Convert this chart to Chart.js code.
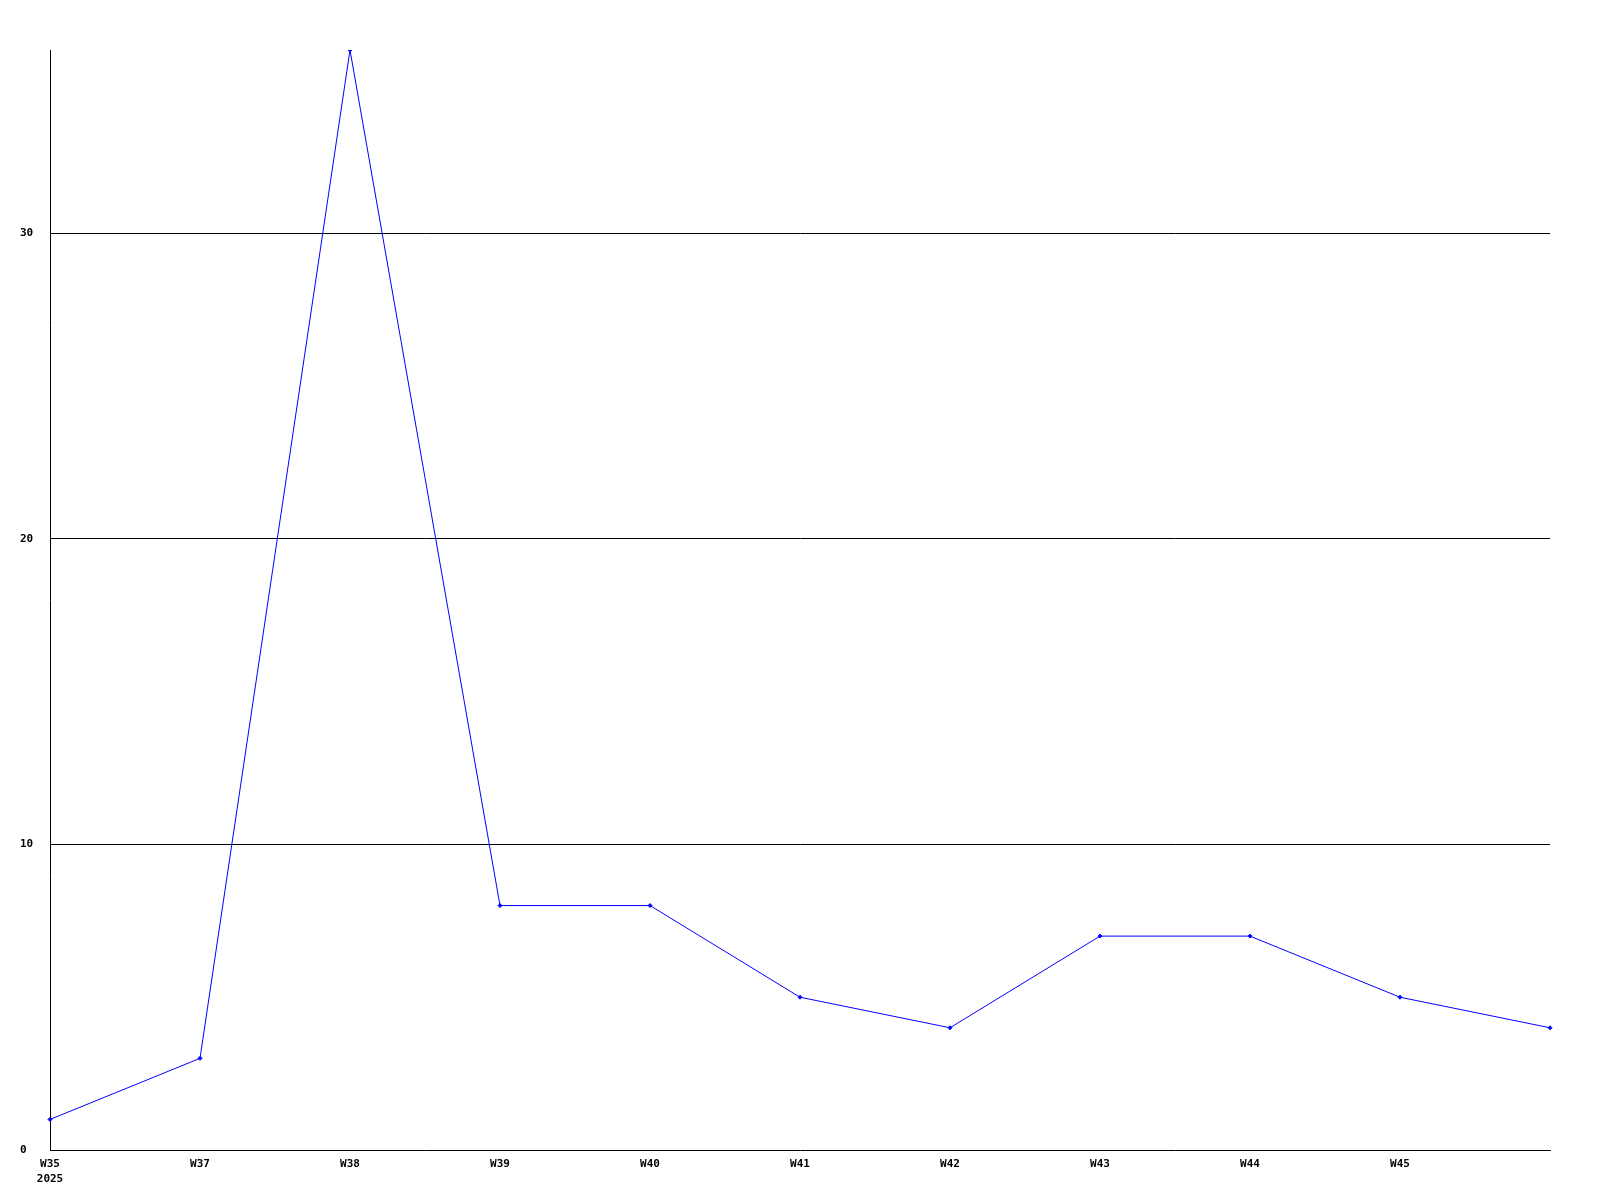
<!DOCTYPE html>
<html>
<head>
<meta charset="utf-8">
<script src="https://cdn.jsdelivr.net/npm/chart.js@4/dist/chart.umd.min.js"></script>
<style>
  body { margin: 0; background: #fff; }
  canvas { display: block; }
</style>
</head>
<body>
<canvas id="weekChart" width="1600" height="1200"></canvas>
<script>
// Semanas y valores
const weeks = [['W35', '2025'], 'W37', 'W38', 'W39', 'W40', 'W41', 'W42', 'W43', 'W44', 'W45', ''];
const counts = [1, 3, 36, 8, 8, 5, 4, 7, 7, 5, 4];
const yTicks = [0, 10, 20, 30];

const tickFont = { family: 'DejaVu Sans Mono', size: 11, weight: 'bold', lineHeight: 1.35 };

const ctx = document.getElementById('weekChart').getContext('2d');
const weekChart = new Chart(ctx, {
    type: 'line',
    data: {
        labels: weeks,
        datasets: [{
            data: counts,
            borderColor: '#0000ff',
            backgroundColor: '#0000ff',
            borderWidth: 1,
            pointStyle: 'rectRot',
            pointRadius: 2,
            pointBorderWidth: 1,
            tension: 0
        }]
    },
    options: {
        responsive: false,
        animation: false,
        layout: { padding: { left: 20, top: 50, right: 50, bottom: 0 } },
        plugins: {
            legend: { display: false },
            tooltip: { enabled: false }
        },
        scales: {
            x: {
                offset: false,
                grid: { display: false, drawTicks: false },
                border: { display: true, color: '#000', width: 1 },
                ticks: {
                    color: '#000',
                    font: tickFont,
                    align: 'center',
                    autoSkip: false,
                    maxRotation: 0,
                    padding: 7
                },
                afterFit: (scale) => { scale.height = 50; }
            },
            y: {
                min: 0,
                max: 36,
                grid: {
                    drawTicks: false,
                    color: (c) => c.tick && c.tick.value === 0 ? 'rgba(0,0,0,0)' : '#000',
                    lineWidth: 1
                },
                border: { display: true, color: '#000', width: 1 },
                ticks: {
                    color: '#000',
                    font: { family: 'DejaVu Sans Mono', size: 11, weight: 'bold' },
                    crossAlign: 'far',
                    padding: 0
                },
                afterBuildTicks: (scale) => {
                    scale.ticks = yTicks.map(v => ({ value: v }));
                },
                afterFit: (scale) => { scale.width = 30; }
            }
        }
    }
});
</script>
</body>
</html>
